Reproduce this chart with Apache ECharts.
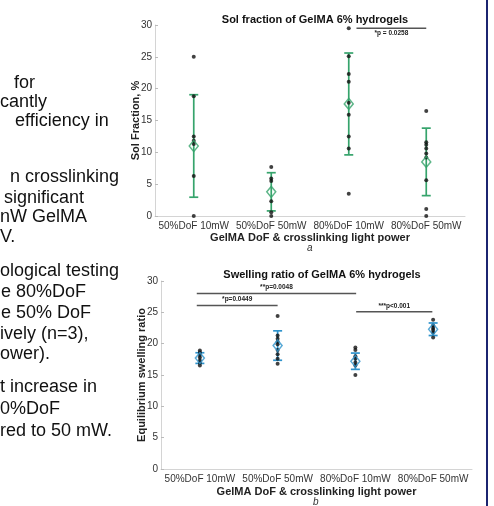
<!DOCTYPE html>
<html><head><meta charset="utf-8">
<script src="https://cdn.jsdelivr.net/npm/echarts@6/dist/echarts.min.js"></script>
<style>html,body{margin:0;padding:0;background:#fff}#c{width:494px;height:506px}</style>
</head><body><div id="c"></div>
<script>
const categories = ['50%DoF 10mW', '50%DoF 50mW', '80%DoF 10mW', '80%DoF 50mW'];
const yTickMin = 0, yTickMax = 30, yTickStep = 5;

const solPoints = [
  [25.0, 18.8, 12.5, 11.8, 11.3, 6.3, 0.0],
  [7.7, 5.9, 5.5, 2.3, 0.6, 0.0],
  [29.5, 25.1, 22.3, 21.1, 17.8, 15.9, 12.5, 10.6, 3.5],
  [16.5, 11.6, 11.2, 10.6, 9.8, 9.2, 5.6, 1.1, 0.0]
];
const solMean = [11.0, 3.8, 17.6, 8.5];
const solSD = [8.05, 3.0, 8.0, 5.3];
const solSig = [[2.6, 3.5, 29.5, '*p = 0.0258']];

const swellPoints = [
  [18.9, 18.6, 18.2, 17.8, 17.3, 16.9, 16.5],
  [24.4, 21.3, 20.8, 20.3, 19.9, 19.0, 18.3, 17.6, 16.8],
  [19.4, 19.0, 18.0, 17.6, 17.0, 16.5, 15.0],
  [23.8, 22.9, 22.5, 22.2, 21.8, 21.0]
];
const swellMean = [17.7, 19.7, 17.2, 22.3];
const swellSD = [0.85, 2.35, 1.3, 1.0];
const swellSig = [
  [0.46, 2.51, 28.0, '**p=0.0048'],
  [0.46, 1.50, 26.1, '*p=0.0449'],
  [2.51, 3.49, 25.1, '***p<0.001']
];

const leftText = [
  ['for', 14, 84], ['cantly', 0, 103], ['efficiency in', 15, 122],
  ['n crosslinking', 10, 178], ['significant', 4, 199], ['nW GelMA', 0, 218], ['V.', 0, 238],
  ['ological testing', 0, 272], ['e 80%DoF', 1, 293], ['e 50% DoF', 1, 314], ['ively (n=3),', 0, 335], ['ower).', 0, 355],
  ['t increase in', 0, 388], ['0%DoF', 0, 410], ['red to 50 mW.', 0, 432]
];

const FONT = 'Liberation Sans, Arial, Helvetica, sans-serif';
const GREEN = '#36a46c';
const BLUE = '#2f93cc';

function errSeries(mean, sd, color, xi, yi) {
  return {
    type: 'custom', xAxisIndex: xi, yAxisIndex: yi, z: 2,
    data: mean.map((m, i) => [i + 0.5, m - sd[i], m + sd[i]]),
    encode: {x: 0, y: [1, 2]},
    renderItem: function (params, api) {
      const x = api.value(0);
      const a = api.coord([x, api.value(1)]), b = api.coord([x, api.value(2)]);
      const hw = 4.5, st = {stroke: color, lineWidth: 1.7};
      return {type: 'group', children: [
        {type: 'line', shape: {x1: a[0], y1: a[1], x2: b[0], y2: b[1]}, style: st},
        {type: 'line', shape: {x1: a[0] - hw, y1: a[1], x2: a[0] + hw, y2: a[1]}, style: st},
        {type: 'line', shape: {x1: b[0] - hw, y1: b[1], x2: b[0] + hw, y2: b[1]}, style: st}
      ]};
    }
  };
}
function pointSeries(points, xi, yi) {
  const d = [];
  points.forEach((arr, i) => arr.forEach(v => d.push([i + 0.5, v])));
  return {type: 'scatter', xAxisIndex: xi, yAxisIndex: yi, z: 3, symbol: 'circle', symbolSize: 4,
    itemStyle: {color: '#111'}, data: d, silent: true};
}
function meanSeries(mean, color, xi, yi) {
  return {type: 'scatter', xAxisIndex: xi, yAxisIndex: yi, z: 4, symbol: 'diamond', symbolSize: [9, 11],
    itemStyle: {color: 'rgba(255,255,255,0)', borderColor: color, borderWidth: 1.5},
    data: mean.map((m, i) => [i + 0.5, m]), silent: true};
}
function sigSeries(sig, xi, yi, textDy) {
  return {
    type: 'custom', xAxisIndex: xi, yAxisIndex: yi, z: 5, silent: true,
    data: sig, encode: {x: [0, 1], y: 2},
    renderItem: function (params, api) {
      const s = sig[params.dataIndex];
      const a = api.coord([s[0], s[2]]), b = api.coord([s[1], s[2]]);
      return {type: 'group', children: [
        {type: 'line', shape: {x1: a[0], y1: a[1], x2: b[0], y2: b[1]}, style: {stroke: '#555', lineWidth: 1.5}},
        {type: 'text', x: (a[0] + b[0]) / 2, y: a[1] + textDy,
          style: {text: s[3], fill: '#222', font: 'bold 6.5px ' + FONT, align: 'center', verticalAlign: 'middle'}}
      ]};
    }
  };
}
function catAxis(gi) {
  return {type: 'category', gridIndex: gi, data: categories, boundaryGap: true,
    name: 'GelMA DoF & crosslinking light power', nameLocation: 'middle', nameGap: gi === 0 ? 16 : 17,
    nameMoveOverlap: false,
    nameTextStyle: {fontFamily: FONT, fontWeight: 'bold', fontSize: 11, color: '#222'},
    axisLine: {lineStyle: {color: '#d4d4d4', width: 1}},
    axisTick: {inside: true, alignWithLabel: true, length: 3, lineStyle: {color: '#bbb'}},
    axisLabel: {fontFamily: FONT, fontSize: 10, color: '#333', margin: 5, interval: 0}};
}
function valXAxis(gi) {
  return {type: 'value', gridIndex: gi, min: 0, max: 4, show: false};
}
function yAxis(gi, name, gap) {
  return {type: 'value', gridIndex: gi, min: yTickMin, max: yTickMax, interval: yTickStep,
    name: name, nameLocation: 'middle', nameGap: gap, nameMoveOverlap: false,
    nameTextStyle: {fontFamily: FONT, fontWeight: 'bold', fontSize: 11, color: '#222'},
    axisLine: {show: true, lineStyle: {color: '#d4d4d4', width: 1}},
    axisTick: {show: true, inside: true, length: 3, lineStyle: {color: '#bbb'}},
    splitLine: {show: false},
    axisLabel: {fontFamily: FONT, fontSize: 10, color: '#333', margin: 3}};
}

const graphics = leftText.map(t => ({type: 'text', left: t[1], top: t[2] - 10,
  style: {text: t[0], font: '18px ' + FONT, fill: '#111'}}));
graphics.push({type: 'rect', shape: {x: 486, y: 0, width: 2, height: 506}, style: {fill: '#1b2470'}});
graphics.push({type: 'text', left: 307, top: 243, style: {text: 'a', font: 'italic 10px ' + FONT, fill: '#333'}});
graphics.push({type: 'text', left: 313, top: 497, style: {text: 'b', font: 'italic 10px ' + FONT, fill: '#333'}});

const chart = echarts.init(document.getElementById('c'), null, {renderer: 'canvas'});
chart.setOption({
  animation: false,
  backgroundColor: '#fff',
  title: [
    {text: 'Sol fraction of GelMA 6% hydrogels', left: 310, top: 9, textAlign: 'center',
      textStyle: {fontFamily: FONT, fontWeight: 'bold', fontSize: 11, color: '#111'}},
    {text: 'Swelling ratio of GelMA 6% hydrogels', left: 317, top: 264, textAlign: 'center',
      textStyle: {fontFamily: FONT, fontWeight: 'bold', fontSize: 11, color: '#111'}}
  ],
  grid: [
    {left: 155, right: 29, top: 25, bottom: 290},
    {left: 161, right: 22, top: 281, bottom: 37}
  ],
  xAxis: [catAxis(0), valXAxis(0), catAxis(1), valXAxis(1)],
  yAxis: [yAxis(0, 'Sol Fraction, %', 14), yAxis(1, 'Equilibrium swelling ratio', 14)],
  series: [
    errSeries(solMean, solSD, GREEN, 1, 0),
    pointSeries(solPoints, 1, 0),
    meanSeries(solMean, GREEN, 1, 0),
    sigSeries(solSig, 1, 0, 5),
    errSeries(swellMean, swellSD, BLUE, 3, 1),
    pointSeries(swellPoints, 3, 1),
    meanSeries(swellMean, BLUE, 3, 1),
    sigSeries(swellSig, 3, 1, -6)
  ],
  graphic: graphics
});
</script></body></html>
